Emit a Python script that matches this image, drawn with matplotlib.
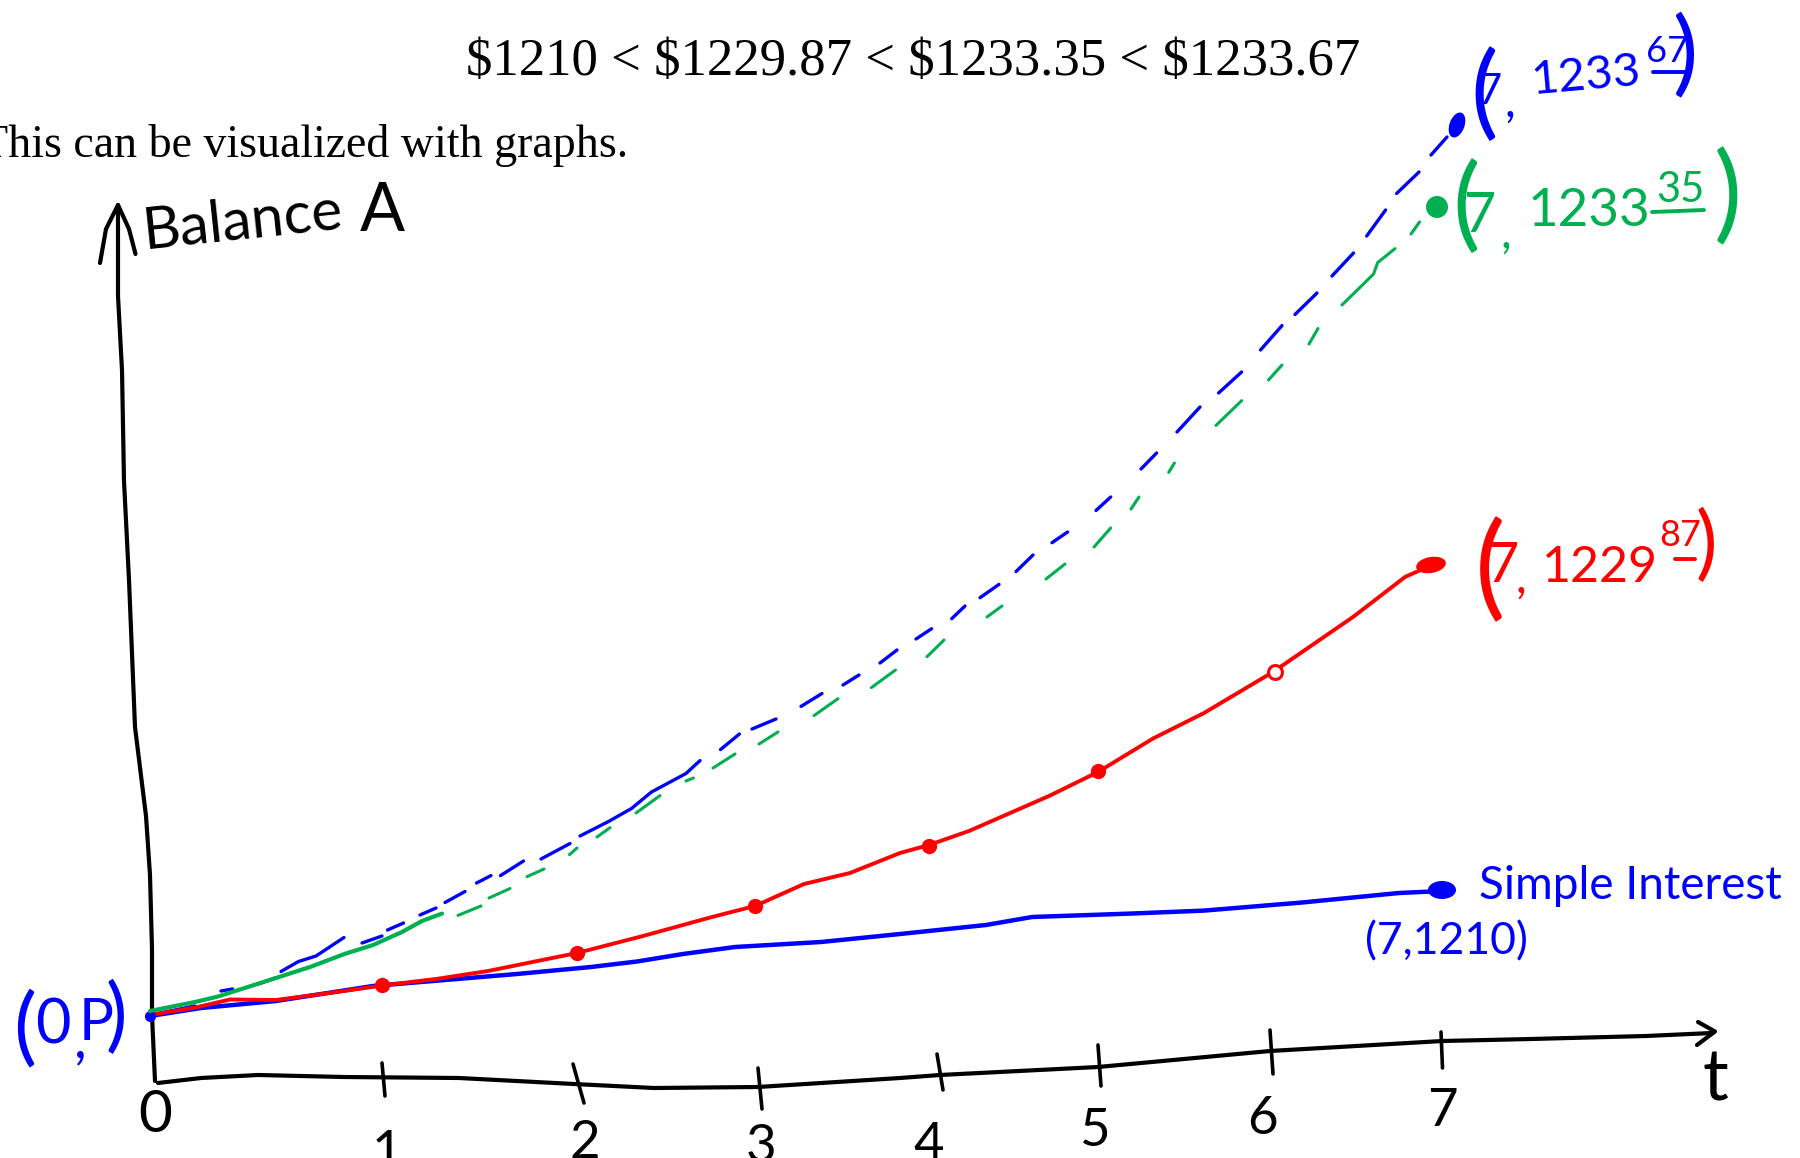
import numpy as np
import matplotlib
matplotlib.use("Agg")
import matplotlib.pyplot as plt
from matplotlib.patches import Ellipse

n = np.nan
# Sketch positions (horizontal = t axis, vertical = balance axis)
vert_axis_x = [118, 118, 122, 124, 129, 135, 146, 150, 152, 152, 155]
vert_axis_y = [205, 296, 370, 481, 580, 727, 816, 875, 949, 1015, 1081]
vert_head_x = [100, 106, 118, 129, 135.5]
vert_head_y = [263, 229, 205, 229, 254]
horiz_axis_x = [158, 201, 258, 344, 459, 574, 654, 758, 900, 940, 1098, 1270, 1442.5, 1531, 1646, 1712]
horiz_axis_y = [1083, 1078, 1075, 1077, 1078, 1084, 1088, 1087, 1078, 1075, 1067, 1051, 1041, 1039, 1036, 1033]
horiz_head_x = [1698, 1715, 1697]
horiz_head_y = [1022, 1031.5, 1045]
tick_x0 = [382, 573, 758, 937, 1098, 1270, 1441]
tick_x1 = [385, 584, 762, 943, 1101, 1273, 1442.5]
tick_y0 = [1063, 1064, 1068, 1054, 1045, 1030, 1032]
tick_y1 = [1096, 1103, 1109, 1090, 1086, 1074, 1068]
tick_labels = ["1", "2", "3", "4", "5", "6", "7"]
tick_label_x = [387, 585, 761, 929, 1094, 1262, 1442]
tick_label_y = [1154, 1143, 1148, 1145, 1131, 1120, 1111]

simple_x = [150, 201, 276, 373, 517, 591, 637, 683, 735, 821, 900, 986, 1032, 1130, 1204, 1302, 1399, 1442.5]
simple_y = [1016, 1008, 1001, 986, 974, 967, 961.5, 954, 947, 942, 934, 925, 917, 913.6, 910.6, 902.5, 893, 891]

red_x = [150, 195, 230, 276, 344, 382, 436, 488, 577, 643, 712, 755, 804, 850, 900, 929, 969, 1049, 1098, 1153, 1204, 1273, 1353, 1405, 1434]
red_y = [1015, 1007.6, 999.5, 1000, 991, 985.5, 979, 971, 953, 936, 917, 906, 884, 873, 853, 845, 831, 796, 772, 738.5, 713, 672, 617, 577, 564]
red_pts_x = [382, 577, 755, 929, 1098]
red_pts_y = [985, 953, 906, 846, 771]

blue_dash_x = [150, 195, n, 221, 232.5, n, 258, 275.5, n, 281, 298.5, 316, 344, n, 362, 382, n, 387.5, 403.5, n, 420, 436, n,
               445, 465, n, 476.5, 491, n, 500.5, 523.5, n, 541, 570, n, 580, 608.5, 631.5, 651.5, 686, 700, n, 720.5, 739.4, n,
               752, 776, n, 801, 822, n, 843, 859, n, 880, 897, n, 916, 931.6, n, 951.7, 965, n, 980, 999, n, 1016, 1033, n,
               1052, 1067.6, n, 1096, 1110.7, n, 1141, 1156.6, n, 1177, 1200, n, 1218.6, 1241.6, n, 1260.5, 1282, n, 1295, 1317, n,
               1332, 1353.5, n, 1366.7, 1385.6, n, 1396.6, 1419, n, 1431, 1447]
blue_dash_y = [1015, 1006, n, 991, 989, n, 984, 978, n, 971.5, 961.5, 956, 937.5, n, 943, 936, n, 930, 923, n, 915, 908, n,
               902.5, 891.5, n, 883, 875.6, n, 875.6, 861, n, 859, 843.5, n, 836, 821.5, 808.5, 792, 773.5, 760.6, n, 749.6, 734, n,
               729, 719, n, 706.4, 693.5, n, 685, 675, n, 663, 650, n, 639, 628.7, n, 618.7, 606, n, 597.7, 584.4, n, 571.6, 555, n,
               542.7, 532, n, 510.5, 497, n, 469, 453, n, 432, 407, n, 393, 372, n, 350, 325.6, n, 314.5, 293, n,
               276, 253, n, 236, 210, n, 193.5, 172, n, 155, 137]

green_solid_x = [150, 195, 218, 252.6, 310, 344.4, 373, 402, 422, 442]
green_solid_y = [1011, 1002, 996.5, 985.5, 967, 954, 945, 932, 921, 913.6]
green_dash_x = [458, 481, n, 489, 510, n, 527, 544, n, 569.5, 577, n, 597, 610, n, 636, 660, n, 686, 693.5, n, 713, 735, n,
                759, 778, n, 814, 838, n, 871.4, 895.5, n, 927, 944, n, 987, 1002, n, 1046, 1065, n, 1094, 1110.7, n,
                1131, 1139, n, 1168.7, 1174.4, n, 1216, 1241.6, n, 1268.5, 1282, n, 1309, 1318, n,
                1342, 1373.6, 1377.6, 1395, n, 1411, 1419.5]
green_dash_y = [915.4, 906, n, 898, 888.5, n, 876.7, 869, n, 854.6, 848, n, 837, 827.7, n, 813, 795.6, n, 781, 778, n, 768, 754, n,
                744, 732, n, 715.6, 698.7, n, 687.6, 670, n, 656.7, 640, n, 617, 606, n, 579, 564, n, 547, 528, n,
                509, 497, n, 472.4, 463, n, 425.4, 400.7, n, 380, 365, n, 344, 328.5, n,
                305, 274, 262.7, 248.6, n, 234, 222]

BLUE, GREEN, RED, BLACK = "#0000FF", "#00B050", "#FF0000", "#000000"
HAND = ["Lato", "Noto Sans", "DejaVu Sans"]

fig = plt.figure(figsize=(18, 11.58), dpi=100, facecolor="white")
ax = fig.add_axes([0, 0, 1, 1])
ax.set_xlim(0, 1800)
ax.set_ylim(1158, 0)
ax.axis("off")

def stroke(x, y, c=BLACK, lw=3.0, z=3):
    ax.plot(x, y, color=c, lw=lw, solid_capstyle="round", solid_joinstyle="round", zorder=z)

stroke(vert_axis_x, vert_axis_y)
stroke(vert_head_x, vert_head_y)
stroke(horiz_axis_x, horiz_axis_y)
stroke(horiz_head_x, horiz_head_y)
for x0, x1, y0, y1 in zip(tick_x0, tick_x1, tick_y0, tick_y1):
    stroke([x0, x1], [y0, y1], lw=2.6)

stroke(simple_x, simple_y, BLUE, 3.2, 4)
stroke(red_x, red_y, RED, 2.8, 5)
stroke(blue_dash_x, blue_dash_y, BLUE, 2.4, 4)
stroke(green_solid_x, green_solid_y, GREEN, 3.0, 6)
stroke(green_dash_x, green_dash_y, GREEN, 2.2, 4)

ax.plot(red_pts_x, red_pts_y, "o", color=RED, ms=11, zorder=7, mew=0)
ax.plot([1275], [672], "o", mfc="white", mec=RED, mew=2.2, ms=10, zorder=7)
for cx, cy, w, h, c, ang in [(1431, 565, 30, 16, RED, -10), (1442, 890, 28, 18, BLUE, 0),
                             (1457, 125, 15, 26, BLUE, 20), (1437, 207, 22, 22, GREEN, 0)]:
    ax.add_patch(Ellipse((cx, cy), w, h, angle=ang, color=c, zorder=7, lw=0))
ax.plot([150], [1016], "o", color=BLUE, ms=8, mew=0, zorder=5)

# printed text
ax.text(1360, 62, "$1210 < $1229.87 < $1233.35 < $1233.67", family=["Liberation Serif"], fontsize=38,
        ha="right", va="center", parse_math=False, color=BLACK)
ax.text(628, 157, "This can be visualized with graphs.", family=["Liberation Serif"], fontsize=33,
        ha="right", va="baseline", color=BLACK)

def hand(x, y, s, size, c=BLACK, rot=0):
    ax.text(x, y, s, family=HAND, fontsize=size, color=c, rotation=rot, ha="center", va="center",
            rotation_mode="anchor", parse_math=False, zorder=8)

hand(243, 222, "Balance", 42, BLACK, 6)
hand(382, 212, "A", 48)
hand(155, 1115, "0", 42)
for s, x, y in zip(tick_labels, tick_label_x, tick_label_y):
    hand(x, y, s, 38)
hand(1715, 1080, "t", 52)

# (0,P)
hand(25, 1030, "(", 62, BLUE)
hand(53, 1026, "0", 44, BLUE)
hand(80, 1042, ",", 40, BLUE)
hand(96, 1024, "P", 42, BLUE)
hand(116, 1018, ")", 58, BLUE)
# (7, 1233.67)
hand(1484, 96, "(", 74, BLUE)
hand(1490, 92, "7", 30, BLUE)
hand(1510, 104, ",", 34, BLUE)
hand(1586, 76, "1233", 34, BLUE, 5)
hand(1667, 52, "67", 26, BLUE)
stroke([1653, 1688], [72, 72], BLUE, 2.8, 8)
hand(1685, 57, ")", 68, BLUE)
# (7, 1233.35)
hand(1466, 208, "(", 74, GREEN)
hand(1480, 216, "7", 40, GREEN)
hand(1506, 235, ",", 34, GREEN)
hand(1589, 211, "1233", 38, GREEN)
hand(1680, 190, "35", 30, GREEN)
stroke([1652, 1704], [212, 210], GREEN, 2.8, 8)
hand(1728, 198, ")", 76, GREEN)
# (7, 1229.87)
hand(1490, 572, "(", 82, RED)
hand(1503, 566, "7", 40, RED)
hand(1521, 580, ",", 34, RED)
hand(1600, 568, "1229", 36, RED)
hand(1680, 535, "87", 26, RED)
stroke([1675, 1695], [559, 559], RED, 2.8, 8)
hand(1706, 546, ")", 58, RED)
# simple interest
hand(1630, 886, "Simple Interest", 33, BLUE, 0)
hand(1446, 942, "(7,1210)", 32, BLUE)

fig.savefig("out.png", dpi=100)
